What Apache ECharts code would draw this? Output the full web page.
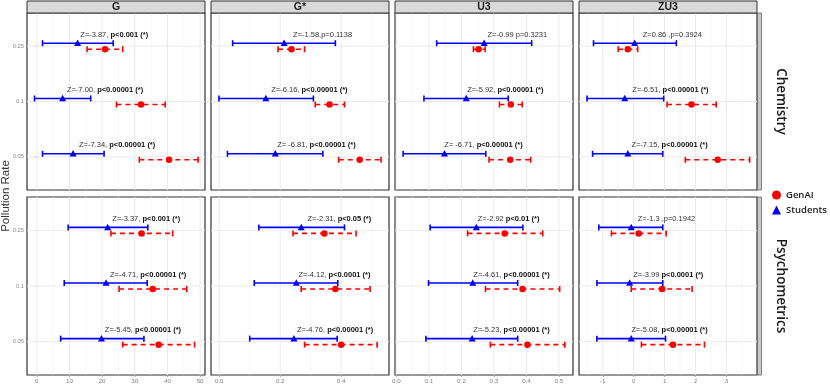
<!DOCTYPE html>
<html><head><meta charset="utf-8">
<script src="https://cdn.jsdelivr.net/npm/echarts@6/dist/echarts.min.js"></script>
<style>html,body{margin:0;padding:0;background:#fff}#c{width:830px;height:388px}</style>
</head><body><div id="c"></div>
<script>
// ---------- DATA ----------
const rates = ['0.05', '0.1', '0.25'];            // y categories, bottom to top
const metrics = ['G', 'G*', 'U3', 'ZU3'];         // facet columns
const subjects = ['Chemistry', 'Psychometrics'];  // facet rows
const seriesNames = ['GenAI', 'Students'];

// [lower, mean, upper] for rates 0.05, 0.1, 0.25
const chemG_students   = [[1.75, 11.1, 20.6], [-0.7, 7.9, 16.5], [1.75, 12.5, 23.4]];
const chemG_genai      = [[31.4, 40.5, 49.4], [24.4, 31.9, 39.3], [15.4, 20.9, 26.3]];
const chemGs_students  = [[0.027, 0.184, 0.340], [-0.001, 0.153, 0.309], [0.044, 0.213, 0.381]];
const chemGs_genai     = [[0.392, 0.461, 0.531], [0.315, 0.362, 0.411], [0.193, 0.237, 0.280]];
const chemU3_students  = [[0.021, 0.148, 0.275], [0.085, 0.215, 0.344], [0.124, 0.270, 0.416]];
const chemU3_genai     = [[0.285, 0.350, 0.413], [0.317, 0.352, 0.387], [0.237, 0.253, 0.273]];
const chemZU3_students = [[-1.33, -0.19, 0.94], [-1.51, -0.29, 0.97], [-1.30, 0.03, 1.38]];
const chemZU3_genai    = [[1.67, 2.72, 3.75], [1.08, 1.87, 2.67], [-0.50, -0.19, 0.13]];

const psyG_students    = [[7.3, 19.8, 32.8], [8.4, 21.2, 33.8], [9.6, 21.7, 34.0]];
const psyG_genai       = [[26.3, 37.3, 48.3], [25.2, 35.5, 45.9], [22.7, 32.1, 41.6]];
const psyGs_students   = [[0.100, 0.245, 0.387], [0.115, 0.253, 0.389], [0.130, 0.269, 0.411]];
const psyGs_genai      = [[0.280, 0.400, 0.518], [0.269, 0.381, 0.495], [0.242, 0.345, 0.449]];
const psyU3_students   = [[0.091, 0.233, 0.373], [0.099, 0.235, 0.373], [0.104, 0.246, 0.389]];
const psyU3_genai      = [[0.289, 0.403, 0.518], [0.274, 0.388, 0.502], [0.219, 0.333, 0.450]];
const psyZU3_students  = [[-1.19, -0.08, 1.03], [-1.19, -0.13, 0.94], [-1.13, -0.08, 0.94]];
const psyZU3_genai     = [[0.25, 1.27, 2.29], [-0.08, 0.92, 1.89], [-0.72, 0.16, 1.05]];

// annotation texts (plain part, bold part) and anchor x, for rates 0.05, 0.1, 0.25
const chemG_z   = ['Z=-7.34, ', 'Z=-7.00, ', 'Z=-3.87, '];
const chemG_p   = ['p<0.00001 (*)', 'p<0.00001 (*)', 'p<0.001 (*)'];
const chemG_lx  = [24.6, 20.9, 23.7];
const chemGs_z  = ['Z= -6.81, ', 'Z=-6.16, ', 'Z=-1.58,p=0.1138'];
const chemGs_p  = ['p<0.00001 (*)', 'p<0.00001 (*)', ''];
const chemGs_lx = [0.319, 0.296, 0.339];
const chemU3_z  = ['Z= -6.71, ', 'Z=-5.92, ', 'Z=-0.99 p=0.3231'];
const chemU3_p  = ['p<0.00001 (*)', 'p<0.00001 (*)', ''];
const chemU3_lx = [0.268, 0.335, 0.372];
const chemZU3_z = ['Z=-7.15, ', 'Z=-6.51, ', 'Z=0.86 ,p=0.3924'];
const chemZU3_p = ['p<0.00001 (*)', 'p<0.00001 (*)', ''];
const chemZU3_lx = [1.16, 1.19, 1.25];

const psyG_z    = ['Z=-5.45, ', 'Z=-4.71, ', 'Z=-3.37, '];
const psyG_p    = ['p<0.00001 (*)', 'p<0.00001 (*)', 'p<0.001 (*)'];
const psyG_lx   = [32.5, 34.1, 33.5];
const psyGs_z   = ['Z=-4.76, ', 'Z=-4.12, ', 'Z=-2.31, '];
const psyGs_p   = ['p<0.00001 (*)', 'p<0.0001 (*)', 'p<0.05 (*)'];
const psyGs_lx  = [0.380, 0.378, 0.394];
const psyU3_z   = ['Z=-5.23, ', 'Z=-4.61, ', 'Z=-2.92 '];
const psyU3_p   = ['p<0.00001 (*)', 'p<0.00001 (*)', 'p<0.01 (*)'];
const psyU3_lx  = [0.354, 0.354, 0.345];
const psyZU3_z  = ['Z=-5.08, ', 'Z=-3.99 ', 'Z=-1.3 ,p=0.1942'];
const psyZU3_p  = ['p<0.00001 (*)', 'p<0.0001 (*)', ''];
const psyZU3_lx = [1.16, 1.12, 1.06];

// x-axis ticks per column
const xTicks_G = [0, 10, 20, 30, 40, 50];
const xTickLabels_G = ['0', '10', '20', '30', '40', '50'];
const xMinor_G = [5, 15, 25, 35, 45];
const xTicks_Gs = [0, 0.2, 0.4];
const xTickLabels_Gs = ['0.0', '0.2', '0.4'];
const xMinor_Gs = [0.1, 0.3, 0.5];
const xTicks_U3 = [0, 0.1, 0.2, 0.3, 0.4, 0.5];
const xTickLabels_U3 = ['0.0', '0.1', '0.2', '0.3', '0.4', '0.5'];
const xMinor_U3 = [0.05, 0.15, 0.25, 0.35, 0.45];
const xTicks_ZU3 = [-1, 0, 1, 2, 3];
const xTickLabels_ZU3 = ['-1', '0', '1', '2', '3'];
const xMinor_ZU3 = [-1.5, -0.5, 0.5, 1.5, 2.5, 3.5];

// ---------- LAYOUT / STYLE ----------
const colLeft = [27, 211, 395, 579];
const colWidth = 178;
const rowTop = [13, 197];
const rowHeight = [177, 178];
const colScale = [
  {min: -3.0, max: 51.5, ticks: xTicks_G, labels: xTickLabels_G, minor: xMinor_G},
  {min: -0.027, max: 0.557, ticks: xTicks_Gs, labels: xTickLabels_Gs, minor: xMinor_Gs},
  {min: -0.004, max: 0.543, ticks: xTicks_U3, labels: xTickLabels_U3, minor: xMinor_U3},
  {min: -1.77, max: 3.99, ticks: xTicks_ZU3, labels: xTickLabels_ZU3, minor: xMinor_ZU3}
];
const panels = [
  [0,0,chemG_students,chemG_genai,chemG_z,chemG_p,chemG_lx],
  [0,1,chemGs_students,chemGs_genai,chemGs_z,chemGs_p,chemGs_lx],
  [0,2,chemU3_students,chemU3_genai,chemU3_z,chemU3_p,chemU3_lx],
  [0,3,chemZU3_students,chemZU3_genai,chemZU3_z,chemZU3_p,chemZU3_lx],
  [1,0,psyG_students,psyG_genai,psyG_z,psyG_p,psyG_lx],
  [1,1,psyGs_students,psyGs_genai,psyGs_z,psyGs_p,psyGs_lx],
  [1,2,psyU3_students,psyU3_genai,psyU3_z,psyU3_p,psyU3_lx],
  [1,3,psyZU3_students,psyZU3_genai,psyZU3_z,psyZU3_p,psyZU3_lx]
];
const BLUE = '#0000ff', RED = '#ff0000';
const DODGE = 3;
const LW = 1.6;
const FONT = 'Liberation Sans, Arial, sans-serif';

function idxOf(arr, v) {
  for (let i = 0; i < arr.length; i++) if (Math.abs(arr[i] - v) < 1e-9) return i;
  return -1;
}

function gridRender(xmin) {
  return function (params, api) {
    const kind = api.value(0), v = api.value(1);
    const cs = params.coordSys;
    if (kind === 2) {
      const y = api.coord([xmin, v])[1];
      return {type: 'line', silent: true, shape: {x1: cs.x, y1: y, x2: cs.x + cs.width, y2: y},
        style: {stroke: '#ebebeb', lineWidth: 1}};
    }
    const x = api.coord([v, 2])[0];
    return {type: 'line', silent: true, shape: {x1: x, y1: cs.y, x2: x, y2: cs.y + cs.height},
      style: {stroke: kind === 1 ? '#ebebeb' : '#f4f4f4', lineWidth: kind === 1 ? 1 : 0.7}};
  };
}

function errRender(color, dashed, dy) {
  return function (params, api) {
    const lo = api.coord([api.value(0), api.value(3)]);
    const hi = api.coord([api.value(2), api.value(3)]);
    const y = lo[1] + dy;
    const capH = 3;
    return {type: 'group', children: [
      {type: 'line', shape: {x1: lo[0], y1: y, x2: hi[0], y2: y},
        style: {stroke: color, lineWidth: LW, lineDash: dashed ? [5, 4] : null}},
      {type: 'line', shape: {x1: lo[0], y1: y - capH, x2: lo[0], y2: y + capH},
        style: {stroke: color, lineWidth: LW}},
      {type: 'line', shape: {x1: hi[0], y1: y - capH, x2: hi[0], y2: y + capH},
        style: {stroke: color, lineWidth: LW}}
    ]};
  };
}

function labelRender(zArr, pArr) {
  return function (params, api) {
    const i = params.dataIndex;
    const pt = api.coord([api.value(0), api.value(1)]);
    const text = pArr[i] ? '{n|' + zArr[i] + '}{b|' + pArr[i] + '}' : '{n|' + zArr[i] + '}';
    return {type: 'text', x: pt[0], y: pt[1] - 11.5, silent: true,
      style: {text: text, align: 'center', verticalAlign: 'middle',
        rich: {
          n: {fontSize: 7.5, fontFamily: FONT, fill: '#333'},
          b: {fontSize: 7.5, fontFamily: FONT, fontWeight: 'bold', fill: '#111'}
        }}};
  };
}

const grid = [], xAxis = [], yAxis = [], series = [];
panels.forEach((p, gi) => {
  const [r, c, stu, gen, zArr, pArr, lx] = p;
  const sc = colScale[c];
  const bottom = r === 1;
  grid.push({left: colLeft[c], top: rowTop[r], width: colWidth, height: rowHeight[r],
    show: true, borderColor: '#333', borderWidth: 1.2, backgroundColor: '#fff',
    containLabel: false, outerBoundsMode: 'none'});
  xAxis.push({type: 'value', gridIndex: gi, min: sc.min, max: sc.max,
    axisLine: {show: false}, splitLine: {show: false},
    axisTick: bottom ? {show: true, customValues: sc.ticks, length: 2, lineStyle: {color: '#999', width: 0.8}} : {show: false},
    axisLabel: bottom ? {show: true, customValues: sc.ticks, margin: 3, fontSize: 6.2, color: '#808080', fontFamily: FONT,
      formatter: v => sc.labels[idxOf(sc.ticks, v)]} : {show: false}});
  yAxis.push({type: 'value', gridIndex: gi, min: 0.4, max: 3.6,
    axisLine: {show: false}, splitLine: {show: false},
    axisTick: c === 0 ? {show: true, customValues: [1, 2, 3], length: 2, lineStyle: {color: '#999', width: 0.8}} : {show: false},
    axisLabel: c === 0 ? {show: true, customValues: [1, 2, 3], margin: 3, fontSize: 5.8, color: '#8c8c8c', fontFamily: FONT,
      formatter: v => rates[Math.round(v) - 1]} : {show: false}});

  const gridData = [];
  sc.minor.forEach(v => { if (v > sc.min && v < sc.max) gridData.push([0, v]); });
  sc.ticks.forEach(v => gridData.push([1, v]));
  rates.forEach((_, i) => gridData.push([2, i + 1]));
  series.push({type: 'custom', name: 'grid' + gi, xAxisIndex: gi, yAxisIndex: gi, z: 1, silent: true,
    renderItem: gridRender(sc.min), data: gridData});

  series.push({type: 'custom', name: 'GenAI CI', xAxisIndex: gi, yAxisIndex: gi, z: 2, silent: true,
    renderItem: errRender(RED, true, DODGE), data: gen.map((d, i) => [d[0], d[1], d[2], i + 1])});
  series.push({type: 'custom', name: 'Students CI', xAxisIndex: gi, yAxisIndex: gi, z: 2, silent: true,
    renderItem: errRender(BLUE, false, -DODGE), data: stu.map((d, i) => [d[0], d[1], d[2], i + 1])});

  series.push({type: 'scatter', name: 'GenAI', xAxisIndex: gi, yAxisIndex: gi, z: 3,
    symbol: 'circle', symbolSize: 6.5, symbolOffset: [0, DODGE], itemStyle: {color: RED, opacity: 1},
    data: gen.map((d, i) => [d[1], i + 1])});
  series.push({type: 'scatter', name: 'Students', xAxisIndex: gi, yAxisIndex: gi, z: 3,
    symbol: 'triangle', symbolSize: [7, 6.5], symbolOffset: [0, -DODGE - 0.5], itemStyle: {color: BLUE, opacity: 1},
    data: stu.map((d, i) => [d[1], i + 1])});

  series.push({type: 'custom', name: 'label' + gi, xAxisIndex: gi, yAxisIndex: gi, z: 4, silent: true,
    renderItem: labelRender(zArr, pArr), data: lx.map((x, i) => [x, i + 1])});
});

const graphic = [];
metrics.forEach((m, c) => {
  graphic.push({type: 'rect', shape: {x: colLeft[c], y: 1, width: colWidth, height: 12},
    style: {fill: '#d9d9d9', stroke: '#333', lineWidth: 1}, z: 10});
  graphic.push({type: 'text', x: colLeft[c] + colWidth / 2, y: 7.5, z: 11,
    style: {text: m, fontSize: 10.5, fontWeight: 'bold', fontFamily: FONT, fill: '#1a1a1a',
      align: 'center', verticalAlign: 'middle', textAlign: 'center', textVerticalAlign: 'middle'}});
});
subjects.forEach((s, r) => {
  graphic.push({type: 'rect', shape: {x: 757.5, y: rowTop[r], width: 4, height: rowHeight[r]},
    style: {fill: '#c8c8c8', stroke: '#666', lineWidth: 0.8}, z: 10});
  graphic.push({type: 'text', x: 781, y: rowTop[r] + rowHeight[r] / 2, rotation: -Math.PI / 2, z: 11,
    style: {text: s, fontSize: 13.5, fontWeight: 600, fontFamily: 'Open Sans, sans-serif', fill: '#1a1a1a',
      align: 'center', verticalAlign: 'middle', textAlign: 'center', textVerticalAlign: 'middle'}});
});
graphic.push({type: 'text', x: 6, y: 196, rotation: Math.PI / 2, z: 11,
  style: {text: 'Pollution Rate', fontSize: 11.5, fontFamily: FONT, fill: '#333',
    align: 'center', verticalAlign: 'middle', textAlign: 'center', textVerticalAlign: 'middle'}});

const chart = echarts.init(document.getElementById('c'), null, {renderer: 'canvas'});
chart.setOption({
  animation: false,
  backgroundColor: '#fff',
  grid, xAxis, yAxis, series, graphic,
  legend: {data: seriesNames, orient: 'vertical', left: 767, top: 185, itemWidth: 9, itemHeight: 9, itemGap: 5,
    selectedMode: false,
    textStyle: {fontFamily: 'Open Sans, sans-serif', fontWeight: 600, fontSize: 9.5, color: '#1a1a1a', padding: [0, 0, 0, 0]}},
  tooltip: {show: false}
});
</script>
</body></html>
